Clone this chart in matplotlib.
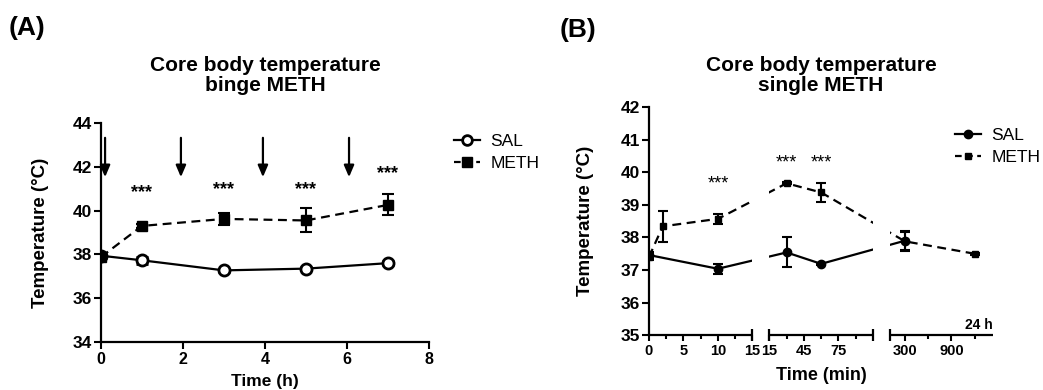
import numpy as np
import matplotlib
matplotlib.use("Agg")
import matplotlib.pyplot as plt
from matplotlib.lines import Line2D

plt.rcParams['font.family'] = ['Liberation Sans', 'DejaVu Sans']
plt.rcParams['font.weight'] = 'bold'
plt.rcParams['axes.labelweight'] = 'bold'

# Panel A: binge METH (time in h)
time_a = [0, 1, 3, 5, 7]
sal_a = [37.94, 37.73, 37.27, 37.35, 37.60]
sal_a_err = [0.10, 0.15, 0.08, 0.08, 0.08]
meth_a = [37.88, 39.30, 39.62, 39.55, 40.26]
meth_a_err = [0.15, 0.10, 0.27, 0.55, 0.48]
inject_a = [0.1, 1.95, 3.95, 6.05]          # arrows (injections)
star_time_a = [1, 3, 5, 7]
star_y_a = [40.8, 40.94, 40.97, 41.67]

# Panel B: single METH (time in min)
time_b_sal = [0, 10, 30, 60, 300]
sal_b = [37.46, 37.04, 37.54, 37.19, 37.90]
sal_b_err = [0.08, 0.15, 0.46, 0.03, 0.30]
time_b_meth = [0, 2, 10, 30, 60, 300, 1200]
meth_b = [37.40, 38.34, 38.57, 39.66, 39.38, 37.88, 37.50]
meth_b_err = [0.10, 0.47, 0.15, 0.03, 0.29, 0.30, 0.03]
star_time_b = [10, 30, 60]
star_y_b = [39.64, 40.28, 40.28]

# broken x axis of panel B
segments = [(0, 15), (15, 105), (105, 1440)]
seg_major = [[0, 5, 10, 15], [15, 45, 75], [300, 900]]
seg_minor = [[2.5, 7.5, 12.5], [30, 60, 90], [600, 1200]]
GAP = 0.165


def seg_pos(t, i):
    a, b = segments[i]
    return i * (1 + GAP) + (t - a) / (b - a)


def to_pos(t):
    for i, (a, b) in enumerate(segments):
        if a <= t <= b:
            return seg_pos(t, i)
    return seg_pos(t, len(segments) - 1)


fig = plt.figure(figsize=(10.43, 3.9), dpi=100)
axA = fig.add_axes([0.0968, 0.1231, 0.3145, 0.5615])
axB = fig.add_axes([0.6222, 0.1403, 0.3301, 0.5854])

for ax in (axA, axB):
    for s in ('top', 'right'):
        ax.spines[s].set_visible(False)
    ax.spines['left'].set_linewidth(1.6)
    ax.spines['bottom'].set_linewidth(1.6)
    ax.tick_params(width=1.5, length=5, pad=2)
    ax.tick_params(axis='y', labelsize=12.5, pad=1.5)

# ---- Panel A ----
axA.errorbar(time_a, sal_a, yerr=sal_a_err, color='k', lw=1.6, marker='o',
             ms=8, mfc='white', mec='k', mew=2, capsize=4, capthick=1.5,
             elinewidth=1.5, zorder=3)
axA.errorbar(time_a, meth_a, yerr=meth_a_err, color='k', lw=1.6, ls=(0, (4, 2.5)),
             marker='s', ms=7.5, mfc='k', mec='k', capsize=4, capthick=1.5,
             elinewidth=1.5, zorder=3)
for t in inject_a:
    axA.annotate('', xy=(t, 41.4), xytext=(t, 43.45),
                 arrowprops=dict(arrowstyle='-|>,head_width=0.3,head_length=0.7',
                                 color='k', lw=1.6))
for t, y in zip(star_time_a, star_y_a):
    axA.text(t, y, '***', ha='center', va='center', fontsize=13, fontweight='bold')
axA.set_xlim(0, 8)
axA.set_ylim(34, 44)
axA.set_xticks([0, 2, 4, 6, 8])
axA.set_yticks([34, 36, 38, 40, 42, 44])
axA.tick_params(axis='x', labelsize=11.5)
axA.set_xlabel('Time (h)', fontsize=12.5, labelpad=5)
axA.set_ylabel('Temperature (°C)', fontsize=13.5, labelpad=17)

# ---- Panel B ----
xs_sal = [to_pos(t) for t in time_b_sal]
xs_meth = [to_pos(t) for t in time_b_meth]
axB.errorbar(xs_sal, sal_b, yerr=sal_b_err, color='k', lw=1.6, marker='o',
             ms=6, capsize=3.5, capthick=1.5, elinewidth=1.5, zorder=2)
axB.errorbar(xs_meth, meth_b, yerr=meth_b_err, color='k', lw=1.6, ls=(0, (4, 2.5)),
             marker='s', ms=4.5, capsize=3.5, capthick=1.5, elinewidth=1.5, zorder=2)
for t, y in zip(star_time_b, star_y_b):
    axB.text(to_pos(t), y, '***', ha='center', va='center', fontsize=13,
             fontweight='normal')

xmax = seg_pos(segments[-1][1], len(segments) - 1)
axB.set_xlim(0, xmax)
axB.set_ylim(35, 42)
axB.set_yticks(range(35, 43))
axB.spines['bottom'].set_visible(False)

tr = axB.get_xaxis_transform()
for i, (a, b) in enumerate(segments):
    x0, x1 = seg_pos(a, i), seg_pos(b, i)
    axB.plot([x0, x1], [0, 0], color='k', lw=1.6, transform=tr, clip_on=False,
             solid_capstyle='butt', zorder=5)
    caps = [x1] if i == 0 else ([x0, x1] if i < len(segments) - 1 else [x0])
    axB.plot(caps, [0] * len(caps), ls='none', marker='|', ms=9, mew=1.6,
             color='k', transform=tr, clip_on=False, zorder=5)
    if i < len(segments) - 1:
        axB.axvspan(x1, seg_pos(segments[i + 1][0], i + 1), color='white',
                    zorder=2.5, lw=0)

maj_pos, maj_lab, min_pos = [], [], []
for i in range(len(segments)):
    for t in seg_major[i]:
        maj_pos.append(seg_pos(t, i))
        maj_lab.append(str(t))
    for t in seg_minor[i]:
        min_pos.append(seg_pos(t, i))
axB.set_xticks(maj_pos, maj_lab)
axB.set_xticks(min_pos, minor=True)
axB.tick_params(axis='x', which='major', length=4, width=1.5, labelsize=10.5)
axB.tick_params(axis='x', which='minor', length=3, width=1.5)
axB.text(xmax, 0.015, '24 h', transform=tr, ha='right', va='bottom',
         fontsize=10, fontweight='bold')
axB.set_xlabel('Time (min)', fontsize=13, labelpad=7)
axB.set_ylabel('Temperature (°C)', fontsize=13.5, labelpad=19)

# ---- legends ----
hA = [Line2D([], [], color='k', lw=1.6, marker='o', ms=7, mfc='white', mew=2),
      Line2D([], [], color='k', lw=1.6, ls=(0, (3, 2)), marker='s', ms=7)]
fig.legend(hA, ['SAL', 'METH'], loc='upper left', bbox_to_anchor=(0.427, 0.68),
           frameon=False, handlelength=1.5, handletextpad=0.6, labelspacing=0.4,
           borderpad=0, prop={'size': 12.5, 'weight': 'normal'})
hB = [Line2D([], [], color='k', lw=1.6, marker='o', ms=6),
      Line2D([], [], color='k', lw=1.6, ls=(0, (3, 2)), marker='s', ms=4.5)]
fig.legend(hB, ['SAL', 'METH'], loc='upper left', bbox_to_anchor=(0.907, 0.695),
           frameon=False, handlelength=1.5, handletextpad=0.6, labelspacing=0.4,
           borderpad=0, prop={'size': 12.5, 'weight': 'normal'})

# ---- titles and panel letters ----
fig.text(265 / 1043, 1 - 56 / 390, 'Core body temperature\nbinge METH',
         ha='center', va='top', fontsize=15, fontweight='bold', linespacing=1.05)
fig.text(821 / 1043, 1 - 56 / 390, 'Core body temperature\nsingle METH',
         ha='center', va='top', fontsize=15, fontweight='bold', linespacing=1.05)
fig.text(9 / 1043, 1 - 16 / 390, '(A)', ha='left', va='top', fontsize=19,
         fontweight='bold')
fig.text(560 / 1043, 1 - 18 / 390, '(B)', ha='left', va='top', fontsize=19,
         fontweight='bold')

fig.savefig('out.png', dpi=100)
